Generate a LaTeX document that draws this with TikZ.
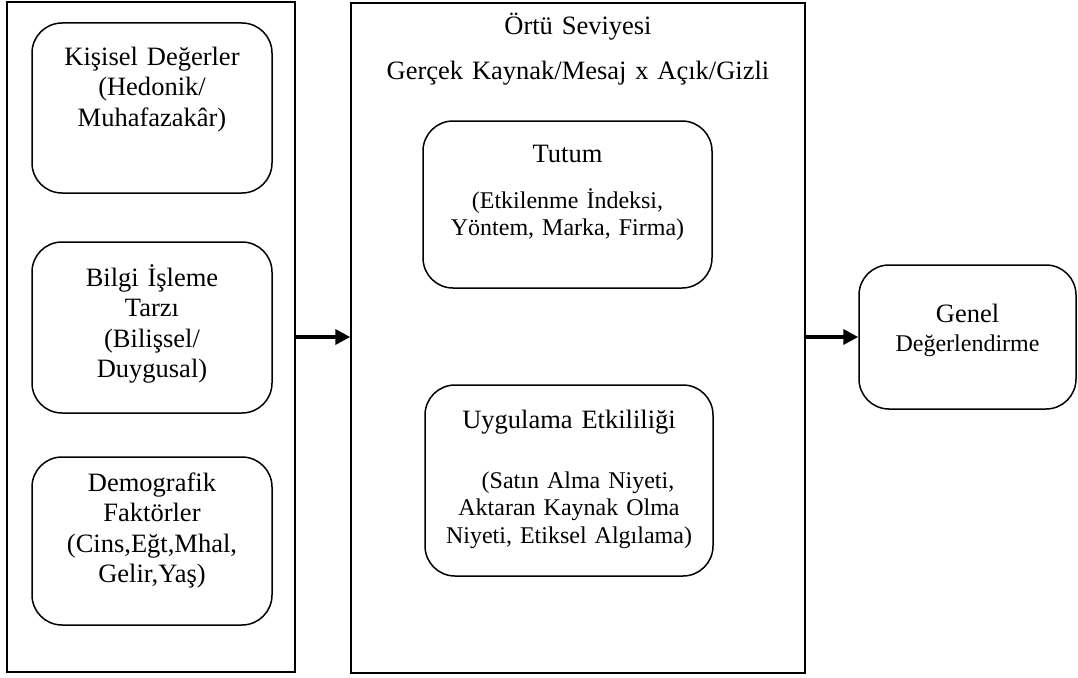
\documentclass[tikz,border=0pt]{standalone}
\usepackage{fontspec}
\setmainfont{Liberation Serif}
\usetikzlibrary{positioning,arrows.meta}
\newcommand{\txtbig}{\fontsize{26.5}{30.5}\selectfont}
\newcommand{\txtsub}{\fontsize{24}{27.5}\selectfont}

\begin{document}
\begin{tikzpicture}[x=1pt,y=-1pt,
    frame/.style={draw, line width=1.5pt, inner sep=0pt},
    rbox/.style={draw, line width=1.5pt, rounded corners=30pt, minimum width=240pt, inner sep=0pt},
    lbl/.style={inner sep=0pt, text width=300pt, align=center, font=\txtbig},
    sublbl/.style={inner sep=0pt, text width=300pt, align=center, font=\txtsub},
    flow/.style={-{Triangle[length=15pt,width=15pt]}, line width=3.5pt}]
  \useasboundingbox (0,0) rectangle (1078,677);

  \node[frame, minimum width=288pt, minimum height=670pt] (left) at (151,337) {};
  \node[frame, minimum width=454pt, minimum height=670pt] (mid) at (578,338) {};

  \node[rbox, minimum height=170pt] (kisisel) at (152,108) {};
  \node[rbox, minimum height=171pt, below=47.5pt of kisisel] (bilgi) {};
  \node[rbox, minimum height=168pt, below=42.5pt of bilgi] (demo) {};

  \node[lbl, anchor=base] (kisiselt) at ([yshift=-43pt]kisisel.north)
    {Kişisel Değerler\\(Hedonik/\\Muhafazakâr)};
  \node[lbl, anchor=base] (bilgit) at ([yshift=-45pt]bilgi.north)
    {Bilgi İşleme\\Tarzı\\(Bilişsel/\\Duygusal)};
  \node[lbl, anchor=base] (demot) at ([yshift=-35pt]demo.north)
    {Demografik\\Faktörler\\(Cins,Eğt,Mhal,\\Gelir,Yaş)};

  \node[lbl, text width=420pt, anchor=base] (ortu) at ([yshift=-32pt]mid.north)
    {Örtü Seviyesi};
  \node[lbl, text width=420pt, anchor=base] (gercek) at ([yshift=-45pt]ortu.base)
    {Gerçek Kaynak/Mesaj x Açık/Gizli};

  \node[rbox, minimum width=289pt, minimum height=167pt] (tutum) at (567.5,204.5) {};
  \node[rbox, minimum width=288pt, minimum height=191pt] (uyg) at (569,480.5) {};

  \node[lbl, anchor=base] (tutumt) at ([yshift=-42pt]tutum.north) {Tutum};
  \node[sublbl, anchor=base] (tutums) at ([yshift=-46pt]tutumt.base)
    {(Etkilenme İndeksi,\\Yöntem, Marka, Firma)};
  \node[lbl, anchor=base] (uygt) at ([yshift=-44pt]uyg.north) {Uygulama Etkililiği};
  \node[sublbl, anchor=base] (uygs) at ([yshift=-60pt]uygt.base)
    {\hspace*{18pt}(Satın Alma Niyeti,\\Aktaran Kaynak Olma\\Niyeti, Etiksel Algılama)};

  \node[rbox, minimum width=217pt, minimum height=144pt] (genel) at (967.5,337) {};
  \node[lbl, anchor=base] (genelt) at ([yshift=-58pt]genel.north) {Genel};
  \node[sublbl, anchor=base] (genels) at ([yshift=-29pt]genelt.base) {Değerlendirme};

  \draw[flow] (left.east) -- (left.east -| mid.west);
  \draw[flow] (mid.east |- genel.west) -- (genel.west);
\end{tikzpicture}
\end{document}
